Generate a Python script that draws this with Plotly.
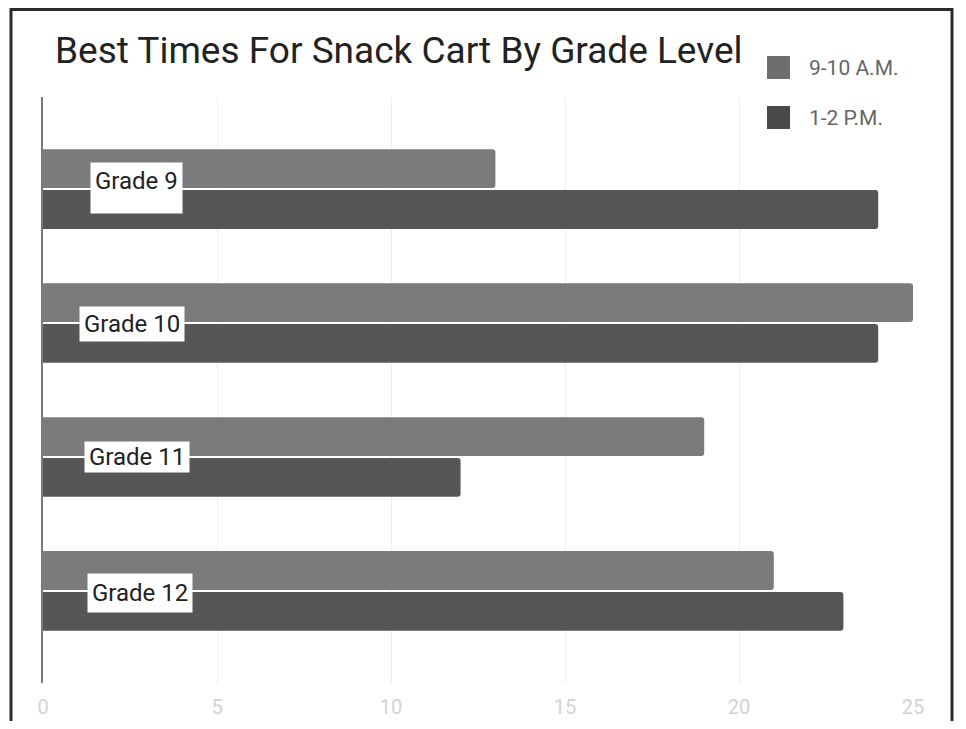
import plotly.graph_objects as go

# ---- data ----
categories = ["Grade 9", "Grade 10", "Grade 11", "Grade 12"]
series_names = ["9-10 A.M.", "1-2 P.M."]
am_values = [13, 25, 19, 21]
pm_values = [24, 24, 12, 23]
x_ticks = [0, 5, 10, 15, 20, 25]
title_text = "Best Times For Snack Cart By Grade Level"

# ---- styling ----
OFF = 8  # page body margin of the html page
W, H = 950, 713
ML, MT = 43 - OFF, 97 - OFF
PR, PB = 913 - OFF, 683 - OFF
MR, MB = W - PR, H - PB
PW, PH = PR - ML, PB - MT
colors = ["#7b7b7b", "#565656"]
legend_colors = ["#6e6e6e", "#4a4a4a"]
FONT = "Roboto"


def px_x(px):
    return (px - OFF - ML) / PW


def px_y(py):
    return (PB - (py - OFF)) / PH


fig = go.Figure()
for name, vals, col in zip(series_names, [am_values, pm_values], colors):
    fig.add_trace(go.Bar(
        y=list(range(len(categories))), x=vals, orientation="h", name=name,
        marker=dict(color=col, line=dict(width=0)), showlegend=False,
        hovertext=categories,
    ))

# category labels (white boxes inside the plot)
label_x_px = [136, 131.5, 136.5, 140]
label_yshift = [1, -1, 0, -2]
label_height = [42, 26, 22, 30]
for i, cat in enumerate(categories):
    fig.add_annotation(
        x=px_x(label_x_px[i]), xref="paper", y=i, yref="y",
        text=cat, showarrow=False, xanchor="center", yanchor="middle",
        bgcolor="white", borderpad=4, height=label_height[i],
        valign="top" if i == 0 else "middle",
        yshift=label_yshift[i],
        font=dict(family=FONT, size=24, color="#222222"),
    )

# manual legend (large squares)
leg_sq_top = [56, 106]
for name, col, top in zip(series_names, legend_colors, leg_sq_top):
    fig.add_shape(type="rect", xref="paper", yref="paper",
                  x0=px_x(767), x1=px_x(790), y0=px_y(top + 23), y1=px_y(top),
                  fillcolor=col, line=dict(width=0))
    fig.add_annotation(x=px_x(807), y=px_y(top + 12), xref="paper", yref="paper",
                       text=name, showarrow=False, xanchor="left", yanchor="middle",
                       font=dict(family=FONT, size=21, color="#666666"))

# picture frame
fig.add_shape(type="rect", xref="paper", yref="paper",
              x0=px_x(11), x1=px_x(952), y0=px_y(760), y1=px_y(9.6),
              line=dict(color="#2b2b2b", width=3), fillcolor="rgba(0,0,0,0)")

fig.update_layout(
    width=W, height=H,
    margin=dict(l=ML, r=MR, t=MT, b=MB, autoexpand=False),
    paper_bgcolor="white", plot_bgcolor="white",
    barmode="group", bargap=0.39, bargroupgap=0.05, barcornerradius=3,
    title=dict(text=title_text, x=(55 - OFF) / W, xref="container", xanchor="left",
               y=1 - (50 - OFF) / H, yref="container", yanchor="middle",
               font=dict(family=FONT, size=37, color="#222222")),
    xaxis=dict(range=[0, 25], tickvals=x_ticks, ticktext=[str(t) for t in x_ticks],
               showgrid=True, gridcolor="#eeeeee", gridwidth=1, zeroline=False,
               showline=False, ticks="", ticklabelstandoff=10, automargin=False,
               tickfont=dict(family=FONT, size=20, color="#d2d2d2")),
    yaxis=dict(range=[3.687, -0.687], tickvals=list(range(len(categories))),
               ticktext=categories, showticklabels=False, showgrid=False,
               zeroline=False, showline=True, linecolor="#7a7a7a", linewidth=1.5,
               ticks="", automargin=False),
    showlegend=False,
)

fig.write_html("out.html")
